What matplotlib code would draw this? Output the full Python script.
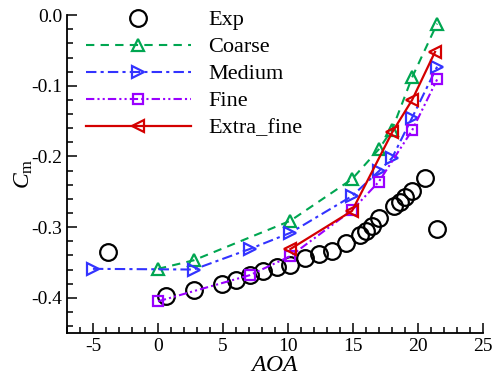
import matplotlib
matplotlib.use('Agg')
import matplotlib.pyplot as plt
from matplotlib.ticker import MultipleLocator

plt.rcParams['font.family'] = ['Liberation Serif', 'DejaVu Serif']
plt.rcParams['mathtext.fontset'] = 'custom'
plt.rcParams['mathtext.it'] = 'Liberation Serif:italic'
plt.rcParams['mathtext.rm'] = 'Liberation Serif'
plt.rcParams['axes.unicode_minus'] = False

# data
exp_aoa = [-3.85, 0.64, 2.74, 4.92, 6.0, 7.05, 8.08, 9.15, 10.18, 11.28, 12.36, 13.38,
           14.48, 15.56, 16.0, 16.46, 16.97, 18.12, 18.58, 19.02, 19.54, 20.56, 21.46]
exp_cm = [-0.335, -0.398, -0.389, -0.381, -0.375, -0.368, -0.362, -0.357, -0.353, -0.344,
          -0.338, -0.334, -0.323, -0.311, -0.305, -0.298, -0.287, -0.270, -0.264, -0.258,
          -0.249, -0.231, -0.302]

coarse_aoa = [0.0, 2.74, 10.18, 14.92, 16.97, 18.0, 19.54, 21.46]
coarse_cm = [-0.359, -0.347, -0.291, -0.232, -0.190, -0.162, -0.088, -0.012]

medium_aoa = [-5.0, 2.74, 7.05, 10.18, 14.92, 16.97, 18.0, 19.54, 21.46]
medium_cm = [-0.359, -0.360, -0.331, -0.308, -0.256, -0.221, -0.202, -0.145, -0.073]

fine_aoa = [0.0, 7.05, 10.18, 14.92, 16.97, 19.54, 21.46]
fine_cm = [-0.405, -0.368, -0.341, -0.276, -0.236, -0.163, -0.091]

xfine_aoa = [10.18, 14.92, 18.0, 19.54, 21.3]
xfine_cm = [-0.331, -0.277, -0.166, -0.120, -0.052]

fig = plt.figure(figsize=(4.92, 3.79), dpi=100)
ax = fig.add_axes([0.136, 0.121, 0.846, 0.839])

ax.plot(exp_aoa, exp_cm, linestyle='none', marker='o', markersize=12, mfc='none',
        mec='black', mew=1.6, label='Exp')
ax.plot(coarse_aoa, coarse_cm, color='#00a651', linestyle=(0, (4, 3)), lw=1.5,
        marker='^', markersize=8, mfc='none', mew=1.6, label='Coarse')
ax.plot(medium_aoa, medium_cm, color='#3333ff', linestyle=(0, (5, 2, 1.5, 2)), lw=1.5,
        marker='>', markersize=8, mfc='none', mew=1.6, label='Medium')
ax.plot(fine_aoa, fine_cm, color='#9900ff', linestyle=(0, (4, 1.5, 1, 1.5, 1, 1.5)), lw=1.5,
        marker='s', markersize=7, mfc='none', mew=1.6, label='Fine')
ax.plot(xfine_aoa, xfine_cm, color='#d40000', linestyle='-', lw=1.6,
        marker='<', markersize=8, mfc='none', mew=1.6, label='Extra_fine')

ax.set_xlim(-7, 25)
ax.set_ylim(-0.45, 0.0)
ax.xaxis.set_major_locator(MultipleLocator(5))
ax.xaxis.set_minor_locator(MultipleLocator(1))
ax.yaxis.set_major_locator(MultipleLocator(0.1))
ax.yaxis.set_minor_locator(MultipleLocator(0.02))
ax.yaxis.set_major_formatter(matplotlib.ticker.FormatStrFormatter('%.1f'))

ax.spines['top'].set_visible(False)
ax.spines['right'].set_visible(False)
ax.spines['left'].set_linewidth(1.3)
ax.spines['bottom'].set_linewidth(1.3)
ax.tick_params(which='both', direction='in', labelsize=14, width=1.1)
ax.tick_params(which='major', length=7)
ax.tick_params(which='minor', length=4)

ax.set_xlabel('$AOA$', fontsize=17, labelpad=0)
ax.set_ylabel('$C_{\\mathrm{m}}$', fontsize=17, labelpad=-3)

ax.legend(loc='upper left', bbox_to_anchor=(0.046, 1.017), frameon=False, fontsize=16,
          borderpad=0, borderaxespad=0,
          handlelength=4.7, handletextpad=0.8, labelspacing=0.29)

plt.savefig('out.png', dpi=100)
